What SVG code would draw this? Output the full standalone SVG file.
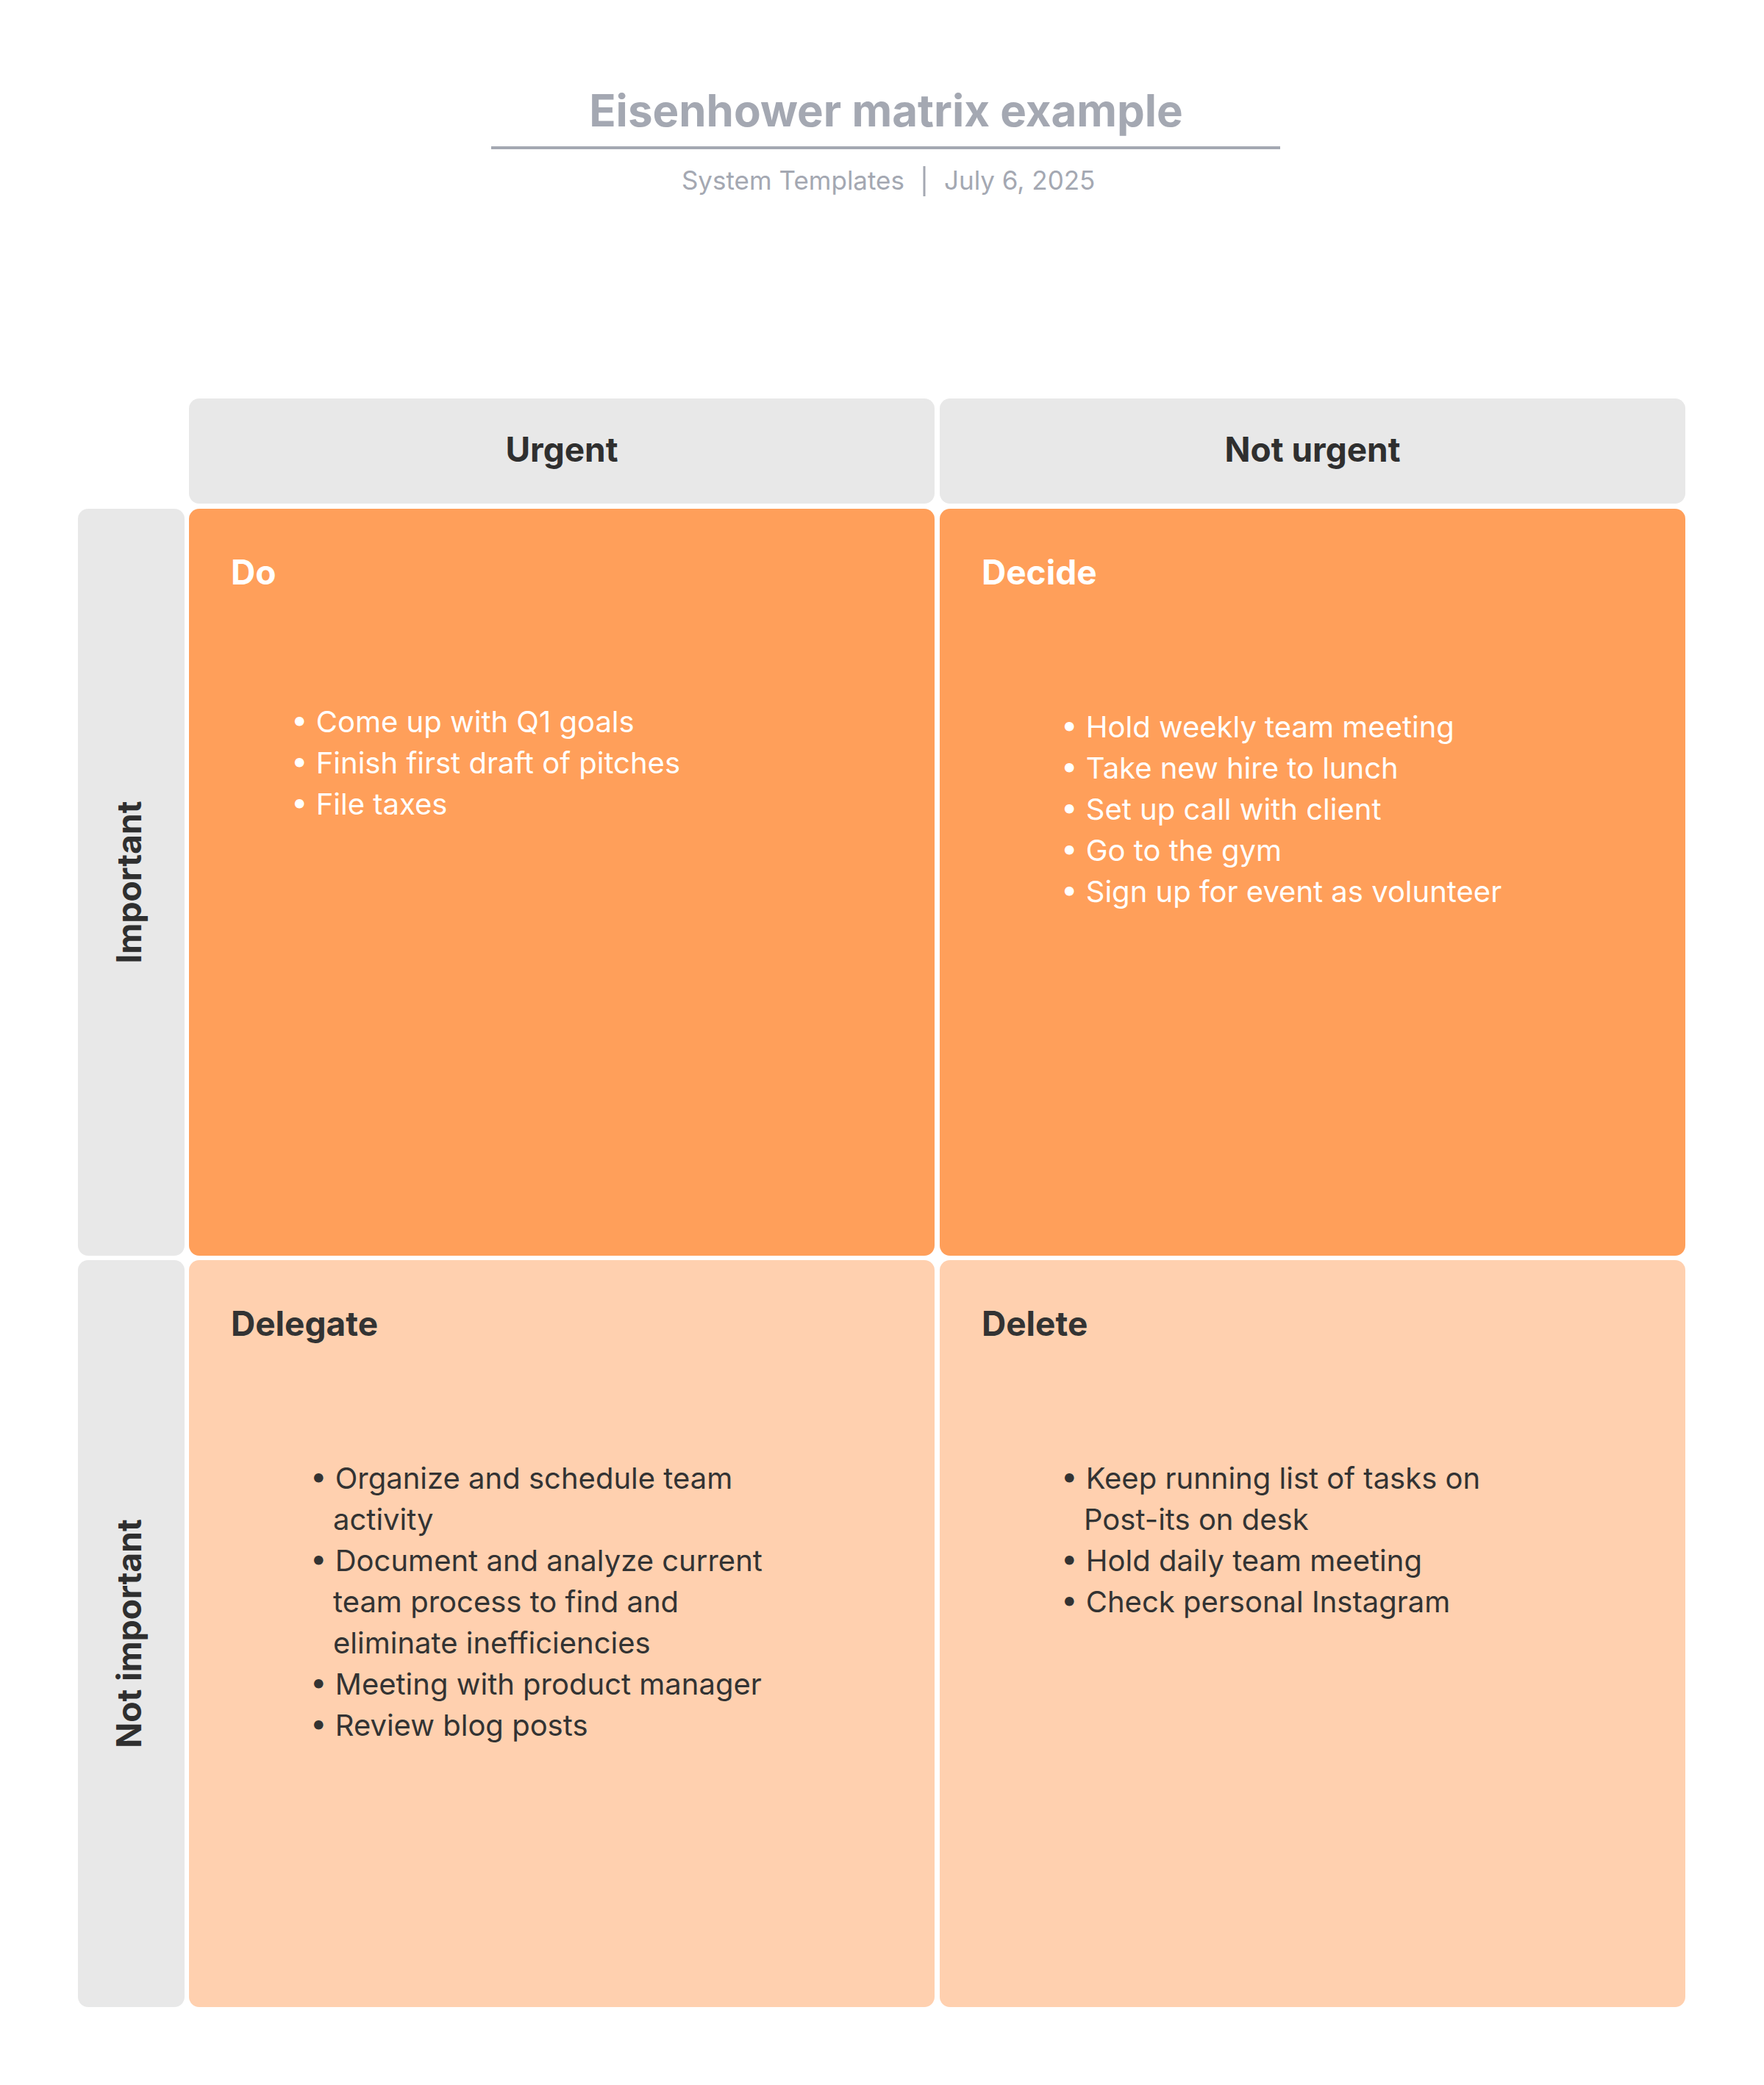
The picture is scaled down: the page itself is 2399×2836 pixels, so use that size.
<svg xmlns="http://www.w3.org/2000/svg" width="2399" height="2836" viewBox="0 0 2399 2836">
<style>
text{font-family:Inter,"Noto Sans","Liberation Sans",sans-serif}
.hdr{fill:#e8e8e8}
.h{font-size:46px;font-weight:700;fill:#2f2f2f;text-anchor:middle}
.qt{font-size:46px;font-weight:700}
.b{font-size:40px}
.w{fill:#ffffff}
.d{fill:#333333}
</style>
<rect width="2399" height="2836" fill="#ffffff"/>
<g id="title">
<text x="1205" y="172" text-anchor="middle" font-size="60" font-weight="700" fill="#a4a8b2">Eisenhower matrix example</text>
<line x1="668" y1="201" x2="1741" y2="201" stroke="#a4a8b2" stroke-width="4"/>
<text x="1230" y="258" text-anchor="end" font-size="35" fill="#a4a8b2">System Templates</text>
<line x1="1257" y1="226" x2="1257" y2="267" stroke="#a4a8b2" stroke-width="3"/>
<text x="1284" y="258" font-size="35" fill="#a4a8b2">July 6, 2025</text>
</g>
<g id="col-urgent"><rect class="hdr" x="257" y="542" width="1014" height="143" rx="14"/><text class="h" x="764" y="628">Urgent</text></g>
<g id="col-noturgent"><rect class="hdr" x="1278" y="542" width="1014" height="143" rx="14"/><text class="h" x="1785" y="628">Not urgent</text></g>
<g id="row-important"><rect class="hdr" x="106" y="692" width="145" height="1016" rx="14"/><text class="h" transform="translate(192 1200) rotate(-90)">Important</text></g>
<g id="row-notimportant"><rect class="hdr" x="106" y="1714" width="145" height="1016" rx="14"/><text class="h" transform="translate(192 2222) rotate(-90)">Not important</text></g>
<g id="do">
<rect x="257" y="692" width="1014" height="1016" rx="14" fill="#ff9f5a"/>
<text class="qt w" x="314" y="795">Do</text>
<g class="b w">
<text x="396" y="996">• Come up with Q1 goals</text>
<text x="396" y="1052">• Finish first draft of pitches</text>
<text x="396" y="1108">• File taxes</text>
</g>
</g>
<g id="decide">
<rect x="1278" y="692" width="1014" height="1016" rx="14" fill="#ff9f5a"/>
<text class="qt w" x="1335" y="795">Decide</text>
<g class="b w">
<text x="1443" y="1003">• Hold weekly team meeting</text>
<text x="1443" y="1059">• Take new hire to lunch</text>
<text x="1443" y="1115">• Set up call with client</text>
<text x="1443" y="1171">• Go to the gym</text>
<text x="1443" y="1227">• Sign up for event as volunteer</text>
</g>
</g>
<g id="delegate">
<rect x="257" y="1714" width="1014" height="1016" rx="14" fill="#ffd0af"/>
<text class="qt d" x="314" y="1817">Delegate</text>
<g class="b d">
<text x="422" y="2025">• Organize and schedule team</text>
<text x="453" y="2081">activity</text>
<text x="422" y="2137">• Document and analyze current</text>
<text x="453" y="2193">team process to find and</text>
<text x="453" y="2249">eliminate inefficiencies</text>
<text x="422" y="2305">• Meeting with product manager</text>
<text x="422" y="2361">• Review blog posts</text>
</g>
</g>
<g id="delete">
<rect x="1278" y="1714" width="1014" height="1016" rx="14" fill="#ffd0af"/>
<text class="qt d" x="1335" y="1817">Delete</text>
<g class="b d">
<text x="1443" y="2025">• Keep running list of tasks on</text>
<text x="1474" y="2081">Post-its on desk</text>
<text x="1443" y="2137">• Hold daily team meeting</text>
<text x="1443" y="2193">• Check personal Instagram</text>
</g>
</g>
<g id="connectors"/>
</svg>
